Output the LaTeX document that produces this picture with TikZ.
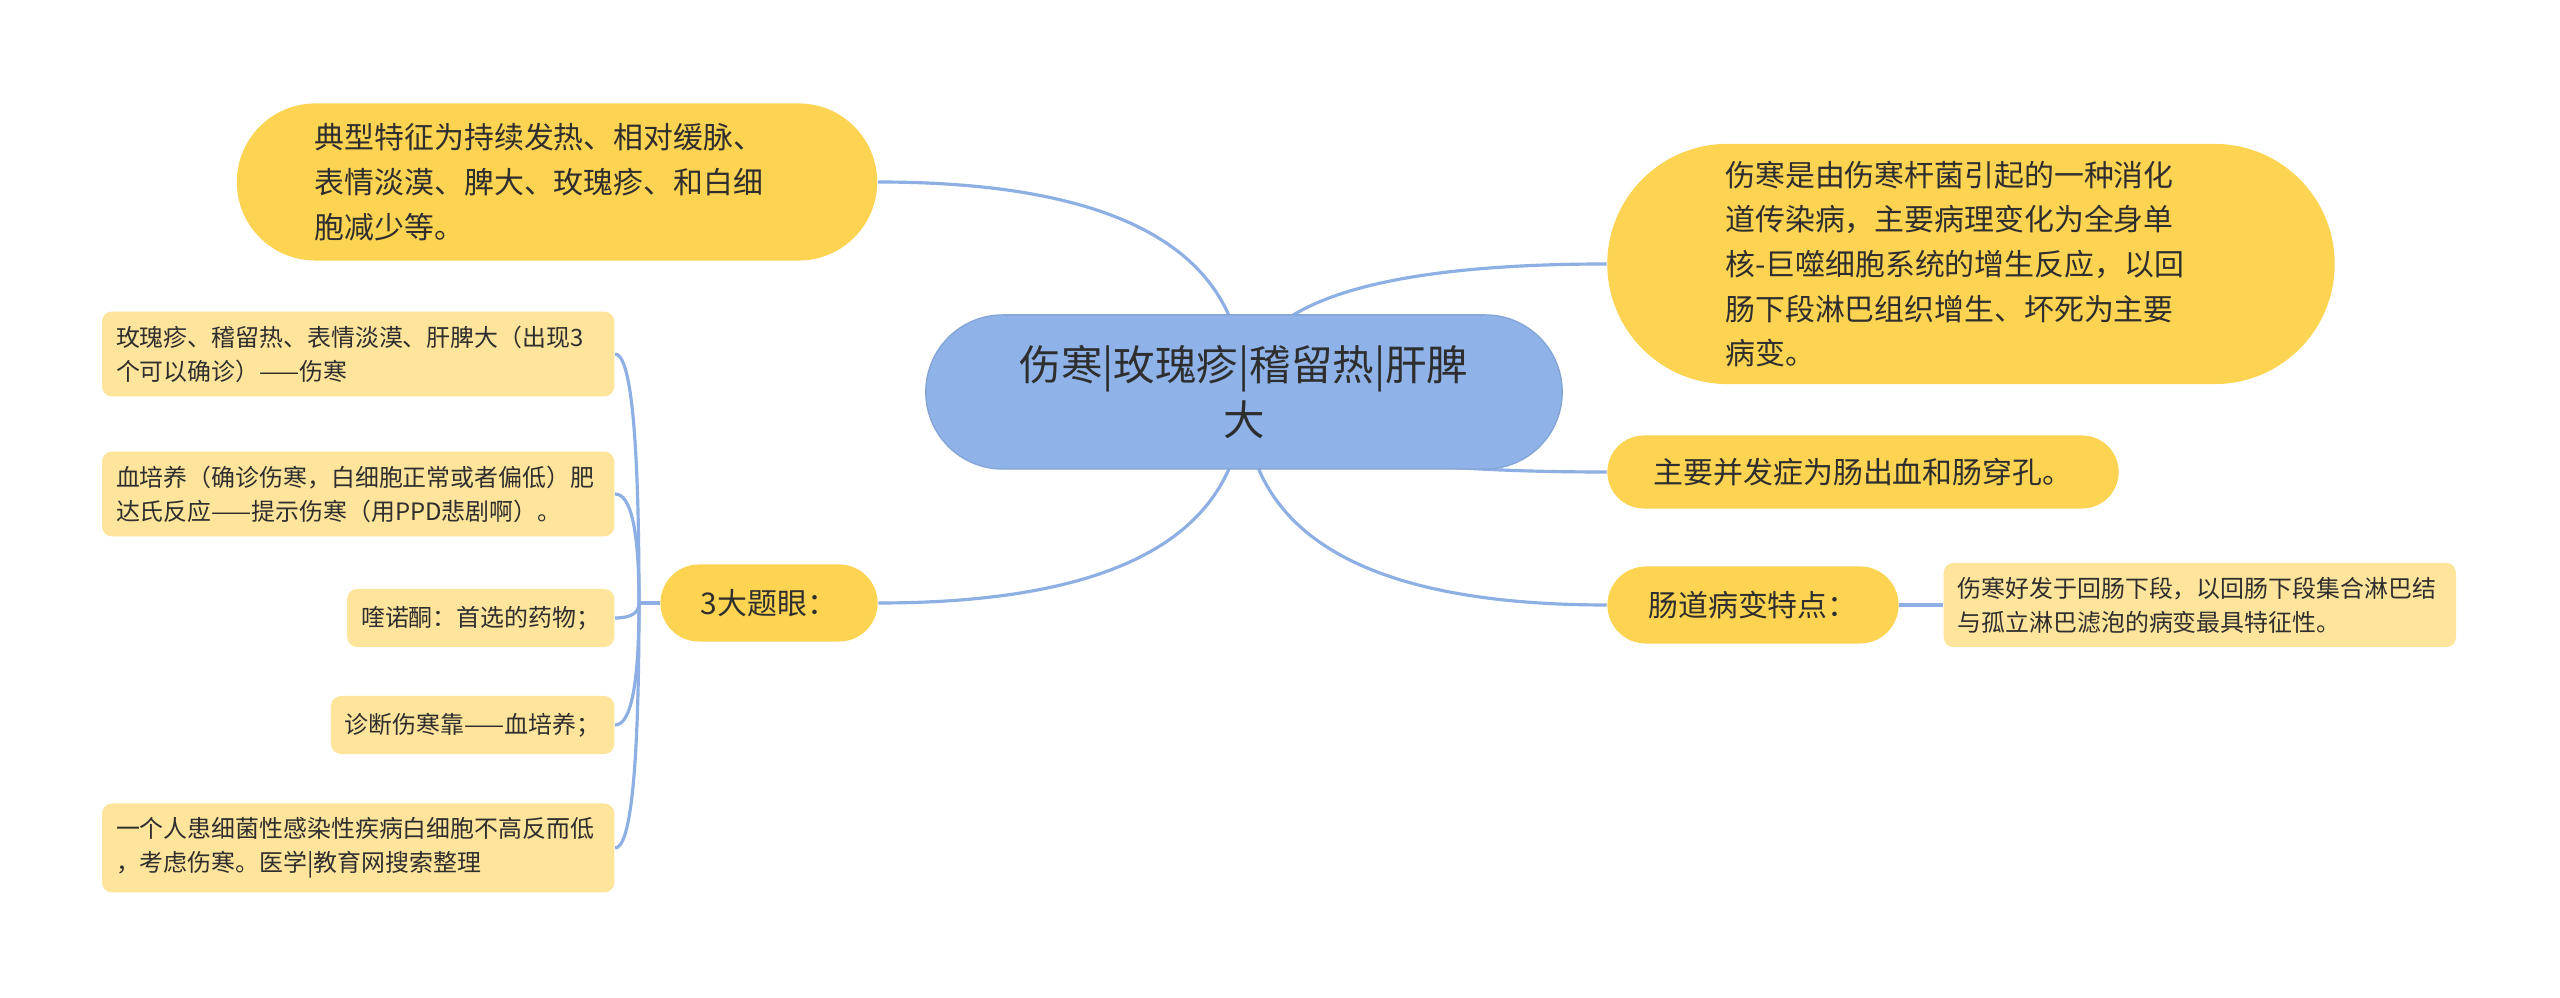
\documentclass[tikz,border=0pt]{standalone}
\usepackage{fontspec}
\setmainfont{Noto Sans CJK SC}
\usepackage{tikz}
\usetikzlibrary{calc}
\usetikzlibrary{backgrounds}

\definecolor{hubblue}{HTML}{8FB3E8}
\definecolor{mainyellow}{HTML}{FDD352}
\definecolor{leafyellow}{HTML}{FFE59C}
\definecolor{linkblue}{HTML}{8DAFE3}
\definecolor{inkgray}{HTML}{2E2E2E}

\begin{document}
\begin{tikzpicture}[x = 0.01cm, y = -0.01cm,
  hub/.style = {fill = hubblue, draw = hubblue!92!black, line width = 0.4pt, text = inkgray, inner sep = 0pt, align = center, font = \fontsize{11.8}{15.4}\selectfont},
  topic/.style = {fill = mainyellow, text = inkgray, inner sep = 0pt, font = \fontsize{8.5}{12.7}\selectfont},
  leaf/.style = {fill = leafyellow, text = inkgray, rounded corners = 0.1cm, inner xsep = 0.14cm, inner ysep = 0.14cm, minimum height = 0.58cm, align = left, font = \fontsize{6.8}{9.7}\selectfont},
  link/.style = {draw = linkblue, line width = 0.9pt}]
\useasboundingbox (0, 0) rectangle (2560, 998);

%central topic
\node[hub, minimum width = 6.36cm, minimum height = 1.54cm, rounded corners = 0.77cm] (hub) at (1244, 392) {伤寒|玫瑰疹|稽留热|肝脾\\大};

%left side
\node[topic, minimum width = 6.40cm, minimum height = 1.57cm, text width = 4.84cm, align = left, rounded corners = 0.785cm] (feat) at (557, 182) {典型特征为持续发热、相对缓脉、\\表情淡漠、脾大、玫瑰疹、和白细\\胞减少等。};
\node[topic, minimum width = 2.17cm, minimum height = 0.77cm, rounded corners = 0.385cm] (eyes) at (769, 603) {3大题眼：};
\coordinate (fork) at (639, 603);

\node[leaf, text width = 4.84cm, anchor = east] (eye1) at (615, 354) {玫瑰疹、稽留热、表情淡漠、肝脾大（出现3\\个可以确诊）——伤寒};
\node[leaf, text width = 4.84cm, anchor = east] (eye2) at (615, 494) {血培养（确诊伤寒，白细胞正常或者偏低）肥\\达氏反应——提示伤寒（用PPD悲剧啊）。};
\node[leaf, anchor = east] (eye3) at (615, 618) {喹诺酮：首选的药物；};
\node[leaf, anchor = east] (eye4) at (615, 725) {诊断伤寒靠——血培养；};
\node[leaf, text width = 4.84cm, anchor = east] (eye5) at (615, 848) {一个人患细菌性感染性疾病白细胞不高反而低\\，考虑伤寒。医学|教育网搜索整理};

%right side
\node[topic, minimum width = 7.27cm, minimum height = 2.40cm, text width = 4.91cm, align = left, rounded corners = 1.2cm] (defn) at (1971, 264) {伤寒是由伤寒杆菌引起的一种消化\\道传染病，主要病理变化为全身单\\核-巨噬细胞系统的增生反应，以回\\肠下段淋巴组织增生、坏死为主要\\病变。};
\node[topic, minimum width = 5.11cm, minimum height = 0.73cm, rounded corners = 0.365cm] (comp) at (1863, 472) {主要并发症为肠出血和肠穿孔。};
\node[topic, minimum width = 2.91cm, minimum height = 0.77cm, rounded corners = 0.385cm] (gut) at (1753, 605) {肠道病变特点：};
\node[leaf, text width = 4.84cm, anchor = west] (gutleaf) at (1943, 605) {伤寒好发于回肠下段，以回肠下段集合淋巴结\\与孤立淋巴滤泡的病变最具特征性。};

\begin{scope}[on background layer]
\fill[white] (0, 0) rectangle (2560, 998);

%branches from the central topic
\draw[link] (hub.center) .. controls ($(hub.center)!0.667!(hub.center |- feat.east)$) and ($(feat.east)!0.667!(hub.center |- feat.east)$) .. (feat.east);
\draw[link] (hub.center) .. controls ($(hub.center)!0.667!(hub.center |- eyes.east)$) and ($(eyes.east)!0.667!(hub.center |- eyes.east)$) .. (eyes.east);
\draw[link] (hub.center) .. controls ($(hub.center)!0.667!(hub.center |- defn.west)$) and ($(defn.west)!0.667!(hub.center |- defn.west)$) .. (defn.west);
\draw[link] (hub.center) .. controls ($(hub.center)!0.667!(hub.center |- comp.west)$) and ($(comp.west)!0.667!(hub.center |- comp.west)$) .. (comp.west);
\draw[link] (hub.center) .. controls ($(hub.center)!0.667!(hub.center |- gut.west)$) and ($(gut.west)!0.667!(hub.center |- gut.west)$) .. (gut.west);

%leaves
\draw[link] (eyes.west) -- (fork);
\draw[link] (fork) .. controls ($(fork)!0.667!(fork |- eye1.east)$) and ($(eye1.east)!0.667!(fork |- eye1.east)$) .. (eye1.east);
\draw[link] (fork) .. controls ($(fork)!0.667!(fork |- eye2.east)$) and ($(eye2.east)!0.667!(fork |- eye2.east)$) .. (eye2.east);
\draw[link] (fork) .. controls ($(fork)!0.667!(fork |- eye3.east)$) and ($(eye3.east)!0.667!(fork |- eye3.east)$) .. (eye3.east);
\draw[link] (fork) .. controls ($(fork)!0.667!(fork |- eye4.east)$) and ($(eye4.east)!0.667!(fork |- eye4.east)$) .. (eye4.east);
\draw[link] (fork) .. controls ($(fork)!0.667!(fork |- eye5.east)$) and ($(eye5.east)!0.667!(fork |- eye5.east)$) .. (eye5.east);
\draw[link] (gut.east) -- (gutleaf.west);
\end{scope}

\end{tikzpicture}
\end{document}
